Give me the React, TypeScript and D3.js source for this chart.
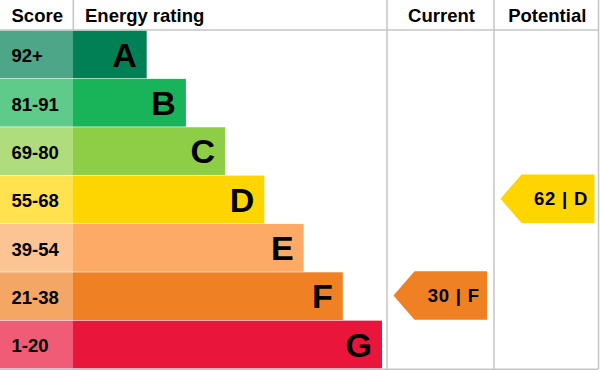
import React from 'react';
import * as d3 from "d3";

const bands = ["A", "B", "C", "D", "E", "F", "G"];
const scores = ["92+", "81-91", "69-80", "55-68", "39-54", "21-38", "1-20"];
const bandColors = ["#008054", "#19b459", "#8dce46", "#ffd500", "#fcaa65", "#ef8023", "#e9153b"];
const headers = ["Score", "Energy rating", "Current", "Potential"];
const currentRating = {value: 30, band: "F"};
const potentialRating = {value: 62, band: "D"};

const W = 600;
const H = 370;
const headerH = 30.5;
const scoreColW = 73;
const currentX0 = 387;
const potentialX0 = 494;
const rightX = 598.5;
const bottomY = 369;
const font = "'Liberation Sans', Arial, sans-serif";
const gridColor = "#c4c4c4";

const App = () => {
    const y = d3.scaleBand<string>()
        .domain(bands)
        .range([headerH, bottomY])
        .paddingInner(0);

    // bar end grows one step per band
    const barEnd = d3.scaleLinear()
        .domain([0, bands.length - 1])
        .range([146.7, 382]);

    const lighten = (c: string) => {
        const col = d3.rgb(c);
        const mix = (v: number) => Math.round(v * 0.7 + 255 * 0.3);
        return d3.rgb(mix(col.r), mix(col.g), mix(col.b)).formatHex();
    };

    const arrow = (x0: number, x1: number, rating: {value: number, band: string}) => {
        const top = y(rating.band)! - 1;
        const h = y.bandwidth();
        const bottom = top + h;
        const mid = top + h / 2;
        const tipX = x0 + 6.5;
        const bodyX = tipX + 21;
        const right = x1 - 7;
        const path = d3.path();
        path.moveTo(tipX, mid);
        path.lineTo(bodyX, top);
        path.lineTo(right, top);
        path.lineTo(right, bottom);
        path.lineTo(bodyX, bottom);
        path.closePath();
        const color = bandColors[bands.indexOf(rating.band)];
        return (
            <g>
                <path d={path.toString()} fill={color}/>
                <text
                    x={(bodyX + right) / 2 + 3}
                    y={mid + 6.7}
                    textAnchor="middle"
                    fontFamily={font}
                    fontWeight="bold"
                    fontSize={18.5}
                    letterSpacing={0.8}
                    fill="#000">
                    {rating.value + " | " + rating.band}
                </text>
            </g>
        );
    };

    return (
        <svg
            width={W}
            height={H}
            style={{position: "absolute", top: 0, left: 0, background: "white"}}>

            {bands.map((b, i) => (
                <g key={b}>
                    <rect
                        x={0}
                        y={y(b)!}
                        width={scoreColW}
                        height={y.bandwidth() - 0.6}
                        fill={lighten(bandColors[i])}/>
                    <rect
                        x={scoreColW}
                        y={y(b)!}
                        width={barEnd(i) - scoreColW}
                        height={y.bandwidth() - 0.6}
                        fill={bandColors[i]}/>
                    <text
                        x={11.5}
                        y={y(b)! + y.bandwidth() / 2 + 7.5}
                        fontFamily={font}
                        fontWeight="bold"
                        fontSize={18.5}
                        fill="#000">
                        {scores[i]}
                    </text>
                    <text
                        x={barEnd(i) - 10}
                        y={y(b)! + y.bandwidth() / 2 + 12}
                        textAnchor="end"
                        fontFamily={font}
                        fontWeight="bold"
                        fontSize={34}
                        fill="#000">
                        {b}
                    </text>
                </g>
            ))}

            {/* grid */}
            <line x1={0} x2={rightX} y1={headerH - 0.5} y2={headerH - 0.5} stroke={gridColor} strokeWidth={1.5}/>
            <line x1={0} x2={rightX} y1={bottomY + 0.3} y2={bottomY + 0.3} stroke={gridColor} strokeWidth={1.5}/>
            <line x1={scoreColW + 0.3} x2={scoreColW + 0.3} y1={0} y2={headerH} stroke={gridColor} strokeWidth={1.5}/>
            <line x1={currentX0} x2={currentX0} y1={0} y2={bottomY} stroke={gridColor} strokeWidth={1.5}/>
            <line x1={potentialX0} x2={potentialX0} y1={0} y2={bottomY} stroke={gridColor} strokeWidth={1.5}/>
            <line x1={rightX} x2={rightX} y1={0} y2={bottomY} stroke={gridColor} strokeWidth={1.5}/>

            {/* headers */}
            <text x={11.5} y={21.7} fontFamily={font} fontWeight="bold" fontSize={18.5}>{headers[0]}</text>
            <text x={85} y={21.7} fontFamily={font} fontWeight="bold" fontSize={18.5}>{headers[1]}</text>
            <text x={(currentX0 + potentialX0) / 2 + 1} y={21.7} textAnchor="middle" fontFamily={font} fontWeight="bold" fontSize={18.5}>{headers[2]}</text>
            <text x={(potentialX0 + rightX) / 2 + 1} y={21.7} textAnchor="middle" fontFamily={font} fontWeight="bold" fontSize={18.5}>{headers[3]}</text>

            {arrow(currentX0, potentialX0, currentRating)}
            {arrow(potentialX0, rightX + 3, potentialRating)}
        </svg>
    );
};

export default App;
